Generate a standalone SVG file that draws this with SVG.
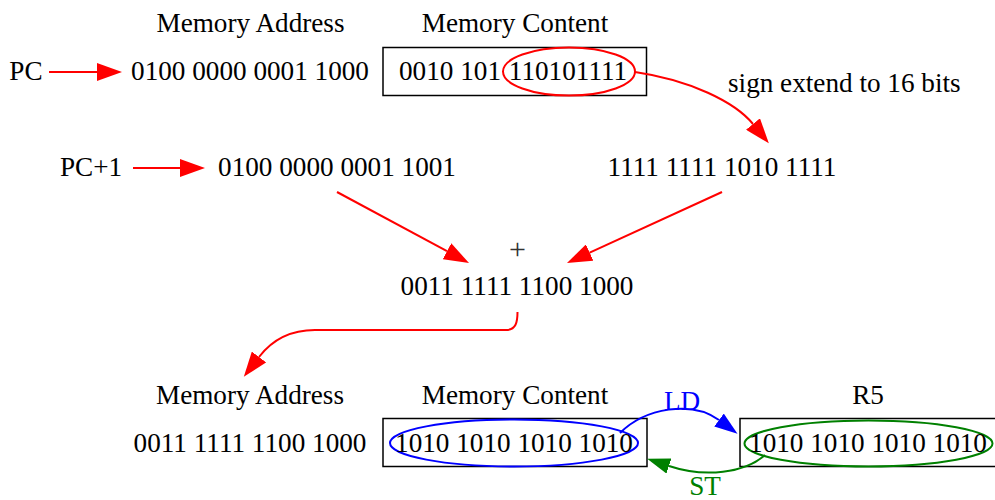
<svg xmlns="http://www.w3.org/2000/svg" width="995" height="500" viewBox="0 0 995 500">
<style>
text{font-family:"Liberation Serif","Times New Roman",serif;font-size:27.2px;fill:#000}
.m{text-anchor:middle}
.box{fill:none;stroke:#000;stroke-width:1.5}
.er{fill:none;stroke:#f00;stroke-width:2}
.eb{fill:none;stroke:#00f;stroke-width:2}
.eg{fill:none;stroke:#008000;stroke-width:2}
.r{fill:none;stroke:#f00;stroke-width:2}
.b{fill:none;stroke:#00f;stroke-width:2}
.g{fill:none;stroke:#008000;stroke-width:2}
</style>
<defs>
<marker id="ar" markerUnits="userSpaceOnUse" markerWidth="26" markerHeight="18" refX="0" refY="9" orient="auto"><path d="M0,0 L25,9 L0,18 z" fill="#f00"/></marker>
<marker id="ab" markerUnits="userSpaceOnUse" markerWidth="24" markerHeight="16" refX="0" refY="8" orient="auto"><path d="M0,0 L23,8 L0,16 z" fill="#00f"/></marker>
<marker id="ag" markerUnits="userSpaceOnUse" markerWidth="24" markerHeight="16" refX="0" refY="8" orient="auto"><path d="M0,0 L23,8 L0,16 z" fill="#008000"/></marker>
</defs>
<g id="top-headers">
<text class="m" x="250.5" y="32">Memory Address</text>
<text class="m" x="515" y="32">Memory Content</text>
</g>
<g id="pc"><text class="m" x="26" y="80">PC</text></g>
<g id="addr1"><text class="m" x="250" y="80">0100 0000 0001 1000</text></g>
<g id="content1">
<rect class="box" x="383" y="47.5" width="263.5" height="48"/>
<text class="m" x="450" y="80">0010 101</text>
<ellipse class="er" cx="569" cy="71.5" rx="66" ry="24"/>
<text class="m" x="568" y="80">110101111</text>
</g>
<g id="signlabel"><text x="728" y="92">sign extend to 16 bits</text></g>
<g id="pc1"><text class="m" x="91" y="176">PC+1</text></g>
<g id="addr2"><text class="m" x="337" y="176">0100 0000 0001 1001</text></g>
<g id="sext"><text class="m" x="722" y="176">1111 1111 1010 1111</text></g>
<g id="plus"><text class="m" x="517.5" y="259" style="fill:#333;font-size:30px">+</text></g>
<g id="sum"><text class="m" x="517" y="295">0011 1111 1100 1000</text></g>
<g id="bottom-headers">
<text class="m" x="250" y="404">Memory Address</text>
<text class="m" x="515" y="404">Memory Content</text>
<text class="m" x="868" y="404">R5</text>
</g>
<g id="addr3"><text class="m" x="250" y="452">0011 1111 1100 1000</text></g>
<g id="content2">
<rect class="box" x="383" y="418.5" width="264" height="48"/>
<ellipse class="eb" cx="514" cy="443" rx="124" ry="23.5"/>
<text class="m" x="514" y="452">1010 1010 1010 1010</text>
</g>
<g id="r5">
<path class="box" d="M997,418.5 L740,418.5 L740,466.5 L997,466.5"/>
<ellipse class="eg" cx="868.5" cy="443.5" rx="124" ry="23"/>
<text class="m" x="868" y="452">1010 1010 1010 1010</text>
</g>
<g id="connectors">
<path class="r" d="M49,72 L97,72" marker-end="url(#ar)"/>
<path class="r" d="M133,168 L180,168" marker-end="url(#ar)"/>
<path class="r" d="M635,72 C690,80 735,102 753,124" marker-end="url(#ar)"/>
<path class="r" d="M337,192 L447,251.2" marker-end="url(#ar)"/>
<path class="r" d="M722,192 L589.7,252.6" marker-end="url(#ar)"/>
<path class="r" d="M517.5,312 C517.5,322 516,330 506,330 L315,330 C290,330 272,340 259,357" marker-end="url(#ar)"/>
<path class="b" d="M620,433 C645,408 692,400 719,420" marker-end="url(#ab)"/>
<path class="g" d="M765,455 C745,473 705,478 669,466" marker-end="url(#ag)"/>
<text class="m" x="682" y="410" style="fill:#00f">LD</text>
<text class="m" x="705" y="495" style="fill:#008000">ST</text>
</g>
</svg>
